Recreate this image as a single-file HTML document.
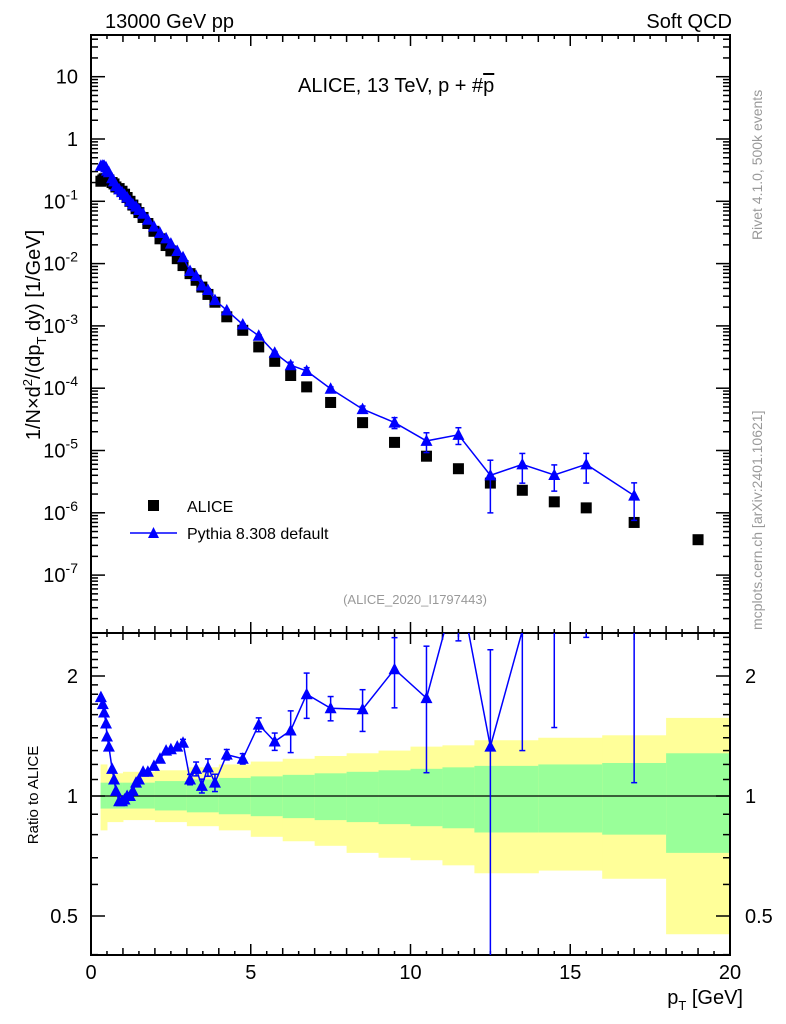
<!DOCTYPE html>
<html><head><meta charset="utf-8">
<style>
html,body{margin:0;padding:0;background:#fff;}
svg{display:block;font-family:"Liberation Sans",sans-serif;}
</style></head>
<body>
<svg id="chart" width="786" height="1024" viewBox="0 0 786 1024" xmlns="http://www.w3.org/2000/svg">
<g id="bands"></g>
<g id="axes"></g>
<g id="series"></g>
<text x="105" y="28" font-size="20">13000 GeV pp</text>
<text x="732" y="28" font-size="20" text-anchor="end">Soft QCD</text>
<text x="298" y="92" font-size="20">ALICE, 13 TeV, p + #<tspan text-decoration="overline">p</tspan></text>
<text x="415" y="604" font-size="13" fill="#999" text-anchor="middle">(ALICE_2020_I1797443)</text>
<text transform="translate(762,240) rotate(-90)" font-size="14" fill="#999" text-anchor="start">Rivet 4.1.0,  500k events</text>
<text transform="translate(762,630) rotate(-90)" font-size="14" fill="#999" text-anchor="start">mcplots.cern.ch [arXiv:2401.10621]</text>
<text transform="translate(40,335) rotate(-90)" font-size="20" text-anchor="middle">1/N×d<tspan font-size="13" dy="-8">2</tspan><tspan dy="8">/(dp</tspan><tspan font-size="13" dy="6">T</tspan><tspan dy="-6"> dy) [1/GeV]</tspan></text>
<text transform="translate(38,795) rotate(-90)" font-size="15" text-anchor="middle">Ratio to ALICE</text>
<text x="743" y="1004" font-size="20" text-anchor="end">p<tspan font-size="13" dy="6">T</tspan><tspan dy="-6"> [GeV]</tspan></text>
<g>
<rect x="148" y="500" width="11" height="11" fill="#000"/>
<text x="187" y="512" font-size="16">ALICE</text>
<line x1="130" y1="533" x2="177" y2="533" stroke="#00f" stroke-width="1.5"/>
<polygon points="153.5,527 159,538 148,538" fill="#00f"/>
<text x="187" y="539" font-size="16">Pythia 8.308 default</text>
</g>
</svg>
<script>
const pT = [0.31,0.37,0.41,0.47,0.5,0.56,0.66,0.72,0.78,0.88,0.97,1.05,1.13,1.22,1.31,1.41,1.5,1.63,1.78,1.97,2.16,2.35,2.5,2.7,2.88,3.1,3.29,3.47,3.66,3.88,4.25,4.75,5.25,5.75,6.25,6.75,7.5,8.5,9.5,10.5,11.5,12.5,13.5,14.5,15.5,17,19];
const aliceVals = [0.21,0.22,0.23,0.23,0.22,0.22,0.2,0.19,0.17,0.16,0.145,0.13,0.115,0.1,0.087,0.076,0.066,0.055,0.044,0.033,0.025,0.0195,0.016,0.012,0.0093,0.0069,0.0054,0.0042,0.0032,0.0024,0.0014,0.00085,0.00046,0.00027,0.00016,0.000105,0.000059,0.000028,0.0000135,0.0000081,0.0000051,0.000003,0.0000023,0.0000015,0.0000012,0.0000007,0.00000037];
const pythiaRatio = [1.77,1.7,1.62,1.52,1.41,1.33,1.17,1.1,1.03,0.97,0.97,0.98,1.0,1.0,1.03,1.08,1.1,1.15,1.15,1.19,1.24,1.3,1.31,1.33,1.36,1.1,1.17,1.06,1.18,1.08,1.27,1.24,1.51,1.37,1.46,1.8,1.66,1.65,2.08,1.76,3.5,1.33,2.6,2.7,5.0,2.7,null];
const pythiaRelErr = [0,0,0,0,0,0,0,0,0,0,0,0,0,0,0,0,0,0,0,0,0,0,0,0,0.02,0.03,0.04,0.04,0.05,0.05,0.03,0.03,0.04,0.05,0.12,0.13,0.07,0.12,0.2,0.35,0.3,0.75,0.5,0.45,0.5,0.6,0];
const bandEdges = [0.3,0.5,1,2,3,4,5,6,7,8,9,10,11,12,14,16,18,20];
const greenHi = [1.08,1.08,1.08,1.09,1.1,1.11,1.12,1.13,1.14,1.15,1.16,1.17,1.18,1.19,1.2,1.21,1.28];
const greenLo = [0.93,0.93,0.93,0.92,0.91,0.9,0.89,0.88,0.87,0.86,0.85,0.84,0.83,0.81,0.81,0.8,0.72];
const yellowHi = [1.2,1.14,1.15,1.16,1.18,1.2,1.22,1.24,1.26,1.28,1.3,1.33,1.34,1.38,1.4,1.42,1.57];
const yellowLo = [0.82,0.86,0.87,0.86,0.84,0.82,0.79,0.77,0.75,0.72,0.7,0.69,0.67,0.64,0.65,0.62,0.45];

const NS="http://www.w3.org/2000/svg";
const X0=91,X1=730,Y0=35,Y1=633,R0=633,R1=955;
const xs=v=>X0+(v/20)*(X1-X0);
const ys=v=>139-62.3*Math.log10(v);
const rs=v=>796-120*Math.log2(v);
function mk(tag,attrs,parent){const e=document.createElementNS(NS,tag);for(const k in attrs)e.setAttribute(k,attrs[k]);parent.appendChild(e);return e;}
const bands=document.getElementById('bands'),axes=document.getElementById('axes'),series=document.getElementById('series');
const clip=v=>Math.max(R0,Math.min(R1,v));

for(let i=0;i<bandEdges.length-1;i++){
  const x1=xs(bandEdges[i]),x2=xs(bandEdges[i+1]);
  const y=mk('rect',{x:x1,y:rs(yellowHi[i]),width:x2-x1+0.5,height:rs(yellowLo[i])-rs(yellowHi[i]),fill:'#ffff99'},bands);
  
  
  const g=mk('rect',{x:x1,y:rs(greenHi[i]),width:x2-x1+0.5,height:rs(greenLo[i])-rs(greenHi[i]),fill:'#99ff99'},bands);
  
  
}
const one=mk('line',{x1:X0,y1:rs(1),x2:X1,y2:rs(1),stroke:'#000','stroke-width':1.2},bands);



for(const [t,b,n] of [[Y0,Y1,'main-frame'],[R0,R1,'ratio-frame']]){
  const f=mk('rect',{x:X0,y:t,width:X1-X0,height:b-t,fill:'none',stroke:'#000','stroke-width':2},axes);
  
  
}
for(let v=0;v<=20.001;v+=0.5){
  const x=xs(v);const L=(v%5===0)?11:(v%1===0?7:4);
  for(const [t,b] of [[Y0,Y1],[R0,R1]]){
    mk('line',{x1:x,y1:b,x2:x,y2:b-L,stroke:'#000','stroke-width':1.5},axes);
    mk('line',{x1:x,y1:t,x2:x,y2:t+L,stroke:'#000','stroke-width':1.5},axes);
  }
}
const xTickLabels=['0','5','10','15','20'];
xTickLabels.forEach(s=>{const t=mk('text',{x:xs(+s),y:979,'font-size':20,'text-anchor':'middle'},axes);t.textContent=s;

});
for(let e=-8;e<=1;e++){for(let m=1;m<10;m++){const v=m*Math.pow(10,e);const y=ys(v);if(y<Y0||y>Y1)continue;const L=m===1?14:7;
  mk('line',{x1:X0,y1:y,x2:X0+L,y2:y,stroke:'#000','stroke-width':1.5},axes);
  mk('line',{x1:X1,y1:y,x2:X1-L,y2:y,stroke:'#000','stroke-width':1.5},axes);}}
const yTickExp=[1,0,-1,-2,-3,-4,-5,-6,-7];
yTickExp.forEach(e=>{const y=ys(Math.pow(10,e))+7;let t;
  if(e===1){t=mk('text',{x:78,y:y,'font-size':20,'text-anchor':'end'},axes);t.textContent='10';}
  else if(e===0){t=mk('text',{x:78,y:y,'font-size':20,'text-anchor':'end'},axes);t.textContent='1';}
  else{t=mk('text',{x:78,y:y,'font-size':20,'text-anchor':'end'},axes);
    const a=document.createElementNS(NS,'tspan');a.textContent='10';t.appendChild(a);
    const b=document.createElementNS(NS,'tspan');b.setAttribute('font-size','14');b.setAttribute('dy','-9');b.textContent=String(e);t.appendChild(b);}
  
  });
const rTicks=[0.4,0.5,0.6,0.7,0.8,0.9,1,1.1,1.2,1.3,1.4,1.5,1.6,1.7,1.8,1.9,2,2.1,2.2,2.3,2.4,2.5];
rTicks.forEach(v=>{const y=rs(v);if(y<R0||y>R1)return;const L=(v===0.5||v===1||v===2)?14:7;
  mk('line',{x1:X0,y1:y,x2:X0+L,y2:y,stroke:'#000','stroke-width':1.5},axes);
  mk('line',{x1:X1,y1:y,x2:X1-L,y2:y,stroke:'#000','stroke-width':1.5},axes);});
const rTickLabels=['0.5','1','2'];
rTickLabels.forEach(s=>{for(const [x,a] of [[78,'end'],[745,'start']]){const t=mk('text',{x:x,y:rs(+s)+7,'font-size':20,'text-anchor':a},axes);t.textContent=s;
  
  }});

pT.forEach((p,i)=>{const s=mk('rect',{x:xs(p)-5.5,y:ys(aliceVals[i])-5.5,width:11,height:11,fill:'#000'},series);
  
  });

const mainPts=[],ratPts=[];
pythiaRatio.forEach((r,i)=>{if(r==null)return;const x=xs(pT[i]);const v=aliceVals[i]*r;mainPts.push([x,ys(v)]);ratPts.push([x,rs(r)]);
  const e=pythiaRelErr[i];
  if(e>0){
    const lo=Math.max(v*(1-e),1e-9),hi=v*(1+e);
    const el=mk('line',{x1:x,y1:ys(lo),x2:x,y2:ys(hi),stroke:'#00f','stroke-width':1.5},series);
    
    
    mk('line',{x1:x-3,y1:ys(lo),x2:x+3,y2:ys(lo),stroke:'#00f','stroke-width':1.5},series);
    mk('line',{x1:x-3,y1:ys(hi),x2:x+3,y2:ys(hi),stroke:'#00f','stroke-width':1.5},series);
    const rlo=Math.max(r*(1-e),0.01),rhi=r*(1+e);
    const y1=clip(rs(rlo)),y2=clip(rs(rhi));
    const er=mk('line',{x1:x,y1:y1,x2:x,y2:y2,stroke:'#00f','stroke-width':1.5},series);
    
    
    if(y1<R1)mk('line',{x1:x-3,y1:y1,x2:x+3,y2:y1,stroke:'#00f','stroke-width':1.5},series);
    if(y2>R0)mk('line',{x1:x-3,y1:y2,x2:x+3,y2:y2,stroke:'#00f','stroke-width':1.5},series);
  }
});
const pl=mk('polyline',{points:mainPts.map(p=>p.join(',')).join(' '),fill:'none',stroke:'#00f','stroke-width':1.5},series);


const cp=mk('clipPath',{id:'rclip'},series);mk('rect',{x:X0,y:R0,width:X1-X0,height:R1-R0},cp);
const rl=mk('polyline',{points:ratPts.map(p=>p.join(',')).join(' '),fill:'none',stroke:'#00f','stroke-width':1.5,'clip-path':'url(#rclip)'},series);


const tri=(x,y)=>`${x},${y-6.5} ${x+6},${y+5} ${x-6},${y+5}`;
mainPts.forEach(p=>{const t=mk('polygon',{points:tri(p[0],p[1]),fill:'#00f'},series);
  
  });
ratPts.forEach(p=>{if(p[1]<R0||p[1]>R1)return;const t=mk('polygon',{points:tri(p[0],p[1]),fill:'#00f'},series);
  
  });
</script>
</body></html>
